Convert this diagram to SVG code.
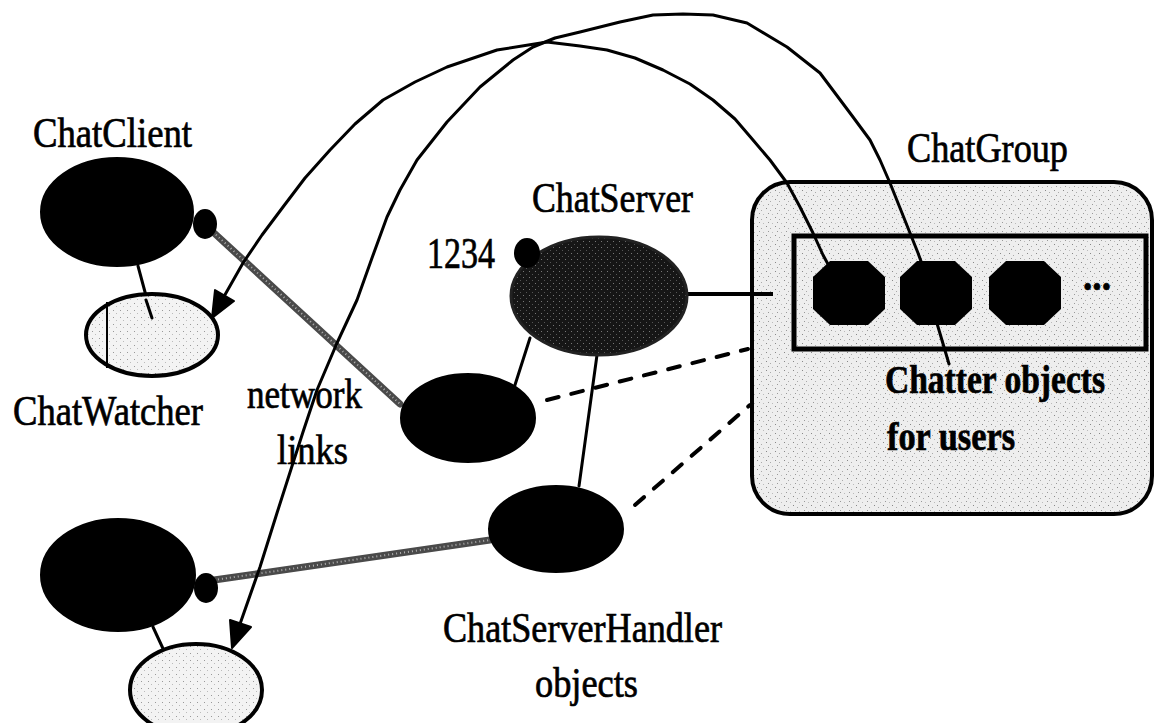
<svg xmlns="http://www.w3.org/2000/svg" width="1156" height="723" viewBox="0 0 1156 723">
<defs>
<style>
.lbl{font-family:"Liberation Serif","Times New Roman",serif;font-size:42px;fill:#000;stroke:#000;stroke-width:0.7}
.bold{font-weight:bold}
.ink{fill:#000;stroke:#000;stroke-width:2}
.line{fill:none;stroke:#000;stroke-width:3;stroke-linecap:round;stroke-linejoin:round}
.curve{fill:none;stroke:#000;stroke-width:3;stroke-linejoin:round;stroke-linecap:round}
.dash{fill:none;stroke:#000;stroke-width:4;stroke-dasharray:12 13;stroke-linecap:round}
.net{fill:none;stroke:#4a4a4a;stroke-width:7;stroke-linecap:round}
.netHi{fill:none;stroke:#b0b0b0;stroke-width:2;stroke-dasharray:1 3}
.watch{fill:url(#lightstip);stroke:#000;stroke-width:4}
.knob{fill:#000}
</style>
<pattern id="lightstip" width="7" height="7" patternUnits="userSpaceOnUse">
<rect width="7" height="7" fill="#f3f3f3"/>
<rect x="1" y="2" width="1" height="1" fill="#999"/>
<rect x="4" y="5" width="1" height="1" fill="#bbb"/>
</pattern>
<pattern id="boxstip" width="9" height="9" patternUnits="userSpaceOnUse">
<rect width="9" height="9" fill="#eeeeee"/>
<rect x="1" y="1" width="1" height="1" fill="#888"/>
<rect x="5" y="3" width="1" height="1" fill="#aaa"/>
<rect x="3" y="6" width="1" height="1" fill="#999"/>
<rect x="7" y="7" width="1" height="1" fill="#bbb"/>
</pattern>
<pattern id="darkstip" width="6" height="6" patternUnits="userSpaceOnUse">
<rect width="6" height="6" fill="#161616"/>
<rect x="1" y="1" width="1" height="1" fill="#777"/>
<rect x="4" y="4" width="1" height="1" fill="#555"/>
</pattern>
<polygon id="oct" points="-19,-32 19,-32 36,-16 36,16 19,32 -19,32 -36,16 -36,-16" fill="#000"/>
</defs>
<rect width="1156" height="723" fill="#fff"/>

<g id="chatgroup">
<rect x="752" y="182" width="400" height="332" rx="38" ry="38" fill="url(#boxstip)" stroke="#000" stroke-width="4"/>
<rect x="794" y="236" width="352" height="113" fill="url(#boxstip)" stroke="#000" stroke-width="5"/>
<text class="lbl" x="907" y="162" textLength="161" lengthAdjust="spacingAndGlyphs">ChatGroup</text>
</g>

<g id="connectors">
<line class="net" x1="213" y1="232" x2="400" y2="404"/>
<line class="netHi" x1="213" y1="232" x2="400" y2="404"/>
<line class="net" x1="214" y1="580" x2="490" y2="540"/>
<line class="netHi" x1="214" y1="580" x2="490" y2="540"/>
<line class="line" x1="138" y1="266" x2="152" y2="318"/>
<line class="line" x1="153" y1="627" x2="172" y2="668"/>
<line class="line" x1="530" y1="338" x2="514" y2="388"/>
<line class="line" x1="597" y1="355" x2="579" y2="486"/>
<line x1="686" y1="294" x2="773" y2="294" stroke="#000" stroke-width="4"/>
<line class="dash" x1="547" y1="400" x2="748" y2="349"/>
<line class="dash" x1="635" y1="505" x2="750" y2="405"/>
<line class="line" x1="936" y1="320" x2="949" y2="364"/>
<polyline class="curve" points="222,300 243,263 262,235 283,207 305,178 330,150 355,124 383,100 415,82 447,67 497,50 547,42 580,46 607,50 635,58 663,70 690,84 713,100 735,119 753,140 770,160 787,183 800,207 813,233 823,255 829,266"/>
<polygon points="212,318 234,301 215,290" fill="#000" stroke="#000" stroke-width="2" stroke-linejoin="round"/>
<polyline class="curve" points="240,624 260,567 277,513 293,463 303,432 317,390 337,343 357,300 372,258 387,217 400,190 417,160 447,122 480,87 513,60 533,47 555,38 580,32 620,22 653,15 683,14 713,15 747,23 787,47 820,73 853,117 870,140 880,160 890,183 900,208 910,233 918,253 922,264"/>
<polygon points="232,648 251,627 230,620" fill="#000" stroke="#000" stroke-width="2" stroke-linejoin="round"/>
</g>

<g id="chatclient1">
<ellipse class="ink" cx="117" cy="212" rx="76" ry="54"/>
<ellipse class="knob" cx="205" cy="224" rx="12" ry="15"/>
<text class="lbl" x="33" y="147" textLength="159" lengthAdjust="spacingAndGlyphs">ChatClient</text>
</g>

<g id="chatwatcher1">
<ellipse class="watch" cx="152" cy="335" rx="66" ry="41"/>
<line x1="107" y1="302" x2="107" y2="368" stroke="#000" stroke-width="2"/>
<line class="line" x1="146" y1="300" x2="152" y2="318"/>
<text class="lbl" x="13" y="425" textLength="190" lengthAdjust="spacingAndGlyphs">ChatWatcher</text>
</g>

<g id="chatserver">
<ellipse cx="599" cy="296" rx="88" ry="59" fill="url(#darkstip)" stroke="#222" stroke-width="3"/>
<ellipse class="knob" cx="527" cy="253" rx="13" ry="15"/>
<text class="lbl" x="532" y="212" textLength="161" lengthAdjust="spacingAndGlyphs">ChatServer</text>
<text class="lbl" x="427" y="268" style="font-size:45px" textLength="68" lengthAdjust="spacingAndGlyphs">1234</text>
</g>

<g id="handler1">
<ellipse class="ink" cx="468" cy="418" rx="67" ry="44"/>
</g>

<g id="handler2">
<ellipse class="ink" cx="556" cy="529" rx="67" ry="43"/>
<text class="lbl" x="443" y="642" textLength="279" lengthAdjust="spacingAndGlyphs">ChatServerHandler</text>
<text class="lbl" x="535" y="697" textLength="103" lengthAdjust="spacingAndGlyphs">objects</text>
</g>

<g id="netlabel">
<text class="lbl" x="247" y="408" textLength="115" lengthAdjust="spacingAndGlyphs">network</text>
<text class="lbl" x="277" y="464" textLength="71" lengthAdjust="spacingAndGlyphs">links</text>
</g>

<g id="chatclient2">
<ellipse class="ink" cx="118" cy="575" rx="77" ry="56"/>
<ellipse class="knob" cx="206" cy="588" rx="12" ry="15"/>
</g>

<g id="chatwatcher2">
<ellipse class="watch" cx="196" cy="690" rx="66" ry="46"/>
</g>

<g id="chatters">
<use href="#oct" x="849" y="293"/>
<use href="#oct" x="936" y="293"/>
<use href="#oct" x="1025" y="293"/>
<text class="lbl bold" x="1083" y="290" textLength="28" lengthAdjust="spacingAndGlyphs">...</text>
<text class="lbl bold" x="885" y="393" style="font-size:40px" textLength="220" lengthAdjust="spacingAndGlyphs">Chatter objects</text>
<text class="lbl bold" x="887" y="450" style="font-size:40px" textLength="128" lengthAdjust="spacingAndGlyphs">for users</text>
</g>
</svg>
